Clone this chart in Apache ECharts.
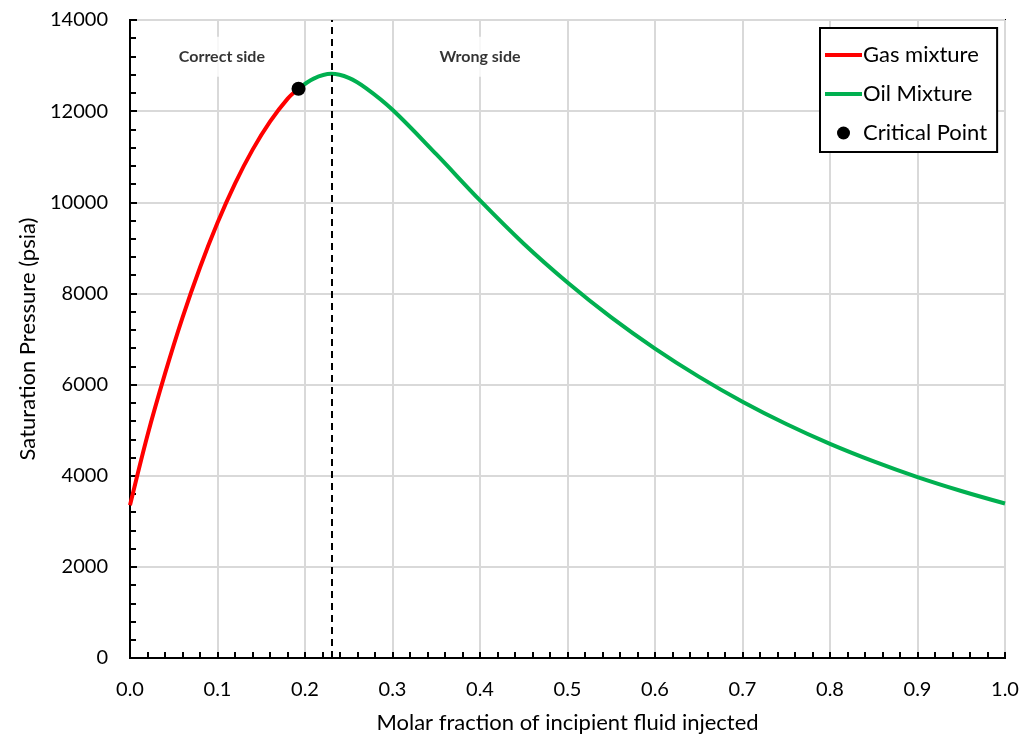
<!DOCTYPE html>
<html>
<head>
<meta charset="utf-8">
<script src="https://cdn.jsdelivr.net/npm/echarts@6/dist/echarts.min.js"></script>
<style>
html,body{margin:0;padding:0;background:#fff;}
#chart{width:1031px;height:748px;}
</style>
</head>
<body>
<div id="chart"></div>
<script>
// Gas mixture (red) branch: [molar fraction, saturation pressure psia]
var gasX = [0, 0.02, 0.04, 0.06, 0.08, 0.10, 0.12, 0.14, 0.16, 0.18, 0.1926];
var gasY = [3350, 4890, 6240, 7470, 8570, 9550, 10410, 11150, 11770, 12270, 12490];
// Oil mixture (green) branch
var oilX = [0.1926, 0.21, 0.23, 0.25, 0.27, 0.3, 0.35, 0.4, 0.45, 0.5, 0.55, 0.6, 0.65, 0.7, 0.75, 0.8, 0.85, 0.9, 0.95, 1.0];
var oilY = [12490, 12715, 12818, 12730, 12500, 12030, 11055, 10040, 9090, 8240, 7475, 6790, 6175, 5625, 5135, 4700, 4315, 3970, 3665, 3390];
// Critical point
var critX = [0.1926];
var critY = [12490];
// Vertical dashed divider
var dividerX = 0.229;
// Annotation texts
var noteNames = ['Correct side', 'Wrong side'];
var noteX = [0.105, 0.40];
var noteY = [13195, 13195];
// Axis ranges / ticks
var xMin = 0, xMax = 1, xStep = 0.1;
var yMin = 0, yMax = 14000, yStep = 2000;

function zip(a, b) { return a.map(function (v, i) { return [v, b[i]]; }); }

var FONT = 'Lato, "Open Sans", sans-serif';
var LINE_ICON = 'path://M0,0h37v4h-37z';
var chart = echarts.init(document.getElementById('chart'), null, {renderer: 'canvas'});
chart.setOption({
  animation: false,
  backgroundColor: '#fff',
  grid: {left: 130, right: 26, top: 20, bottom: 90, show: true, borderColor: '#000', borderWidth: 2, backgroundColor: 'transparent'},
  xAxis: {
    type: 'value', min: xMin, max: xMax, interval: xStep,
    name: 'Molar fraction of incipient fluid injected', nameLocation: 'middle', nameGap: 54,
    nameTextStyle: {fontFamily: FONT, fontSize: 22, color: '#000'},
    axisLine: {show: true, onZero: false, lineStyle: {color: '#000', width: 2}},
    axisTick: {show: true, inside: true, length: 6, lineStyle: {color: '#000', width: 2}},
    minorTick: {show: true, splitNumber: 5, length: 6, lineStyle: {color: '#000', width: 2}},
    axisLabel: {fontFamily: FONT, fontSize: 20, color: '#000', margin: 22, formatter: function (v) { return v.toFixed(1); }},
    splitLine: {show: true, lineStyle: {color: '#D9D9D9', width: 2}}
  },
  yAxis: {
    type: 'value', min: yMin, max: yMax, interval: yStep,
    name: 'Saturation Pressure (psia)', nameLocation: 'middle', nameGap: 88,
    nameTextStyle: {fontFamily: FONT, fontSize: 22, color: '#000'},
    axisLine: {show: true, onZero: false, lineStyle: {color: '#000', width: 2}},
    axisTick: {show: true, inside: true, length: 7, lineStyle: {color: '#000', width: 2}},
    minorTick: {show: true, splitNumber: 5, length: 6, lineStyle: {color: '#000', width: 2}},
    axisLabel: {fontFamily: FONT, fontSize: 20, color: '#000', margin: 22, formatter: function (v) { return String(v); }},
    splitLine: {show: true, lineStyle: {color: '#D9D9D9', width: 2}}
  },
  legend: {
    data: [
      {name: 'Gas mixture', icon: LINE_ICON},
      {name: 'Oil Mixture', icon: LINE_ICON},
      {name: 'Critical Point', icon: 'circle'}
    ],
    symbolKeepAspect: true,
    orient: 'vertical', left: 820, top: 28,
    padding: [16, 10, 8, 5],
    itemGap: 17, itemWidth: 37, itemHeight: 13,
    borderColor: '#000', borderWidth: 2, backgroundColor: '#fff',
    textStyle: {fontFamily: FONT, fontSize: 22, color: '#000', padding: [0, 0, 0, -4]}
  },
  series: [
    {
      name: 'Gas mixture', type: 'line', data: zip(gasX, gasY), smooth: 0.35,
      symbol: 'none', lineStyle: {color: '#FF0000', width: 4}, itemStyle: {color: '#FF0000'}, z: 3
    },
    {
      name: 'Oil Mixture', type: 'line', data: zip(oilX, oilY), smooth: 0.35,
      symbol: 'none', lineStyle: {color: '#00B050', width: 4}, itemStyle: {color: '#00B050'}, z: 3,
      markLine: {
        silent: true, symbol: 'none', label: {show: false},
        lineStyle: {color: '#000', type: [7, 5], width: 2},
        data: [{xAxis: dividerX}]
      }
    },
    {
      name: 'Critical Point', type: 'scatter', data: zip(critX, critY),
      symbol: 'circle', symbolSize: 14, itemStyle: {color: '#000', opacity: 1}, z: 5
    },
    {
      name: 'notes', type: 'scatter', symbolSize: 0, silent: true, z: 2,
      data: noteNames.map(function (n, i) { return {name: n, value: [noteX[i], noteY[i]]}; }),
      label: {
        show: true, position: 'inside', formatter: '{b}',
        fontFamily: FONT, fontSize: 16, fontWeight: 'bold', color: '#000',
        backgroundColor: '#fff', padding: [12, 6]
      }
    }
  ]
});
</script>
</body>
</html>
